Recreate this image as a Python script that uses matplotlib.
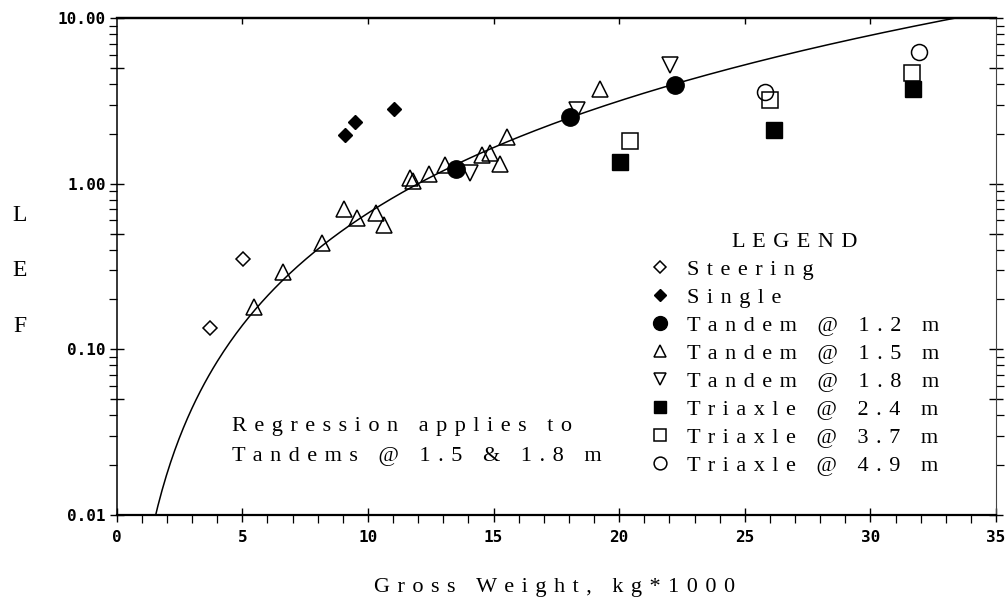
import numpy as np
import matplotlib
matplotlib.use("Agg")
import matplotlib.pyplot as plt
from matplotlib.lines import Line2D
from matplotlib.ticker import (FixedLocator, FuncFormatter, MultipleLocator,
                               NullFormatter, NullLocator)

# ---- data: gross weight (kg*1000) and load equivalency factor -------------
steering_w = [3.72, 5.03]
steering_lef = [0.134, 0.351]

single_w = [9.10, 9.49, 11.05]
single_lef = [1.96, 2.35, 2.82]

tandem12_w = [13.52, 18.06, 22.24]
tandem12_lef = [1.22, 2.52, 3.94]

tandem15_w = [5.47, 6.63, 8.17, 9.03, 9.56, 10.33, 10.62, 11.69, 11.80,
              12.45, 13.08, 14.54, 14.87, 15.27, 15.54, 19.22]
tandem15_lef = [0.180, 0.293, 0.44, 0.70, 0.618, 0.662, 0.562, 1.076, 1.04,
                1.143, 1.295, 1.489, 1.524, 1.313, 1.919, 3.71]

tandem18_w = [14.08, 18.33, 22.04]
tandem18_lef = [1.164, 2.78, 5.2]

triaxle24_w = [20.05, 26.15, 31.69]
triaxle24_lef = [1.35, 2.11, 3.72]

triaxle37_w = [20.45, 26.02, 31.65]
triaxle37_lef = [1.81, 3.19, 4.65]

triaxle49_w = [25.82, 31.92]
triaxle49_lef = [3.57, 6.27]

legend_labels = ["Steering", "Single", "Tandem @ 1.2 m", "Tandem @ 1.5 m",
                 "Tandem @ 1.8 m", "Triaxle @ 2.4 m", "Triaxle @ 3.7 m",
                 "Triaxle @ 4.9 m"]

# regression for tandems @ 1.5 & 1.8 m:  LEF = (W / reg_a) ** reg_b
reg_a = 12.0
reg_b = 2.25

x_major = [0, 5, 10, 15, 20, 25, 30, 35]
y_decades = [0.01, 0.1, 1.0, 10.0]
y_halves = [0.05, 0.5, 5.0]

# ---- styling ---------------------------------------------------------------
plt.rcParams["font.family"] = "DejaVu Sans Mono"
plt.rcParams["font.weight"] = "bold"
SERIF = ["Liberation Serif", "DejaVu Serif"]
TXT = 16
SEP = " \u200a"


def spaced(s):
    """Wide, typewriter-like letter spacing."""
    return SEP.join(s)


fig = plt.figure(figsize=(10.08, 6.09), dpi=100)
ax = fig.add_axes([0.11577, 0.15435, 0.87232, 0.81609])

ax.set_xscale("linear")
ax.set_yscale("log")
ax.set_xlim(0, 35)
ax.set_ylim(0.01, 10)

# regression curve
w_fit = np.linspace(1.3, 35, 400)
ax.plot(w_fit, (w_fit / reg_a) ** reg_b, color="black", lw=1.1, zorder=2)

series = [
    (steering_w, steering_lef, dict(marker="D", ms=7.5, mfc="none", mew=1.1)),
    (single_w, single_lef, dict(marker="D", ms=7.5, mfc="black", mew=1.0)),
    (tandem12_w, tandem12_lef, dict(marker="o", ms=12.5, mfc="black", mew=1.0)),
    (tandem15_w, tandem15_lef, dict(marker="^", ms=11, mfc="none", mew=1.1)),
    (tandem18_w, tandem18_lef, dict(marker="v", ms=11, mfc="none", mew=1.1)),
    (triaxle24_w, triaxle24_lef, dict(marker="s", ms=11, mfc="black", mew=1.0)),
    (triaxle37_w, triaxle37_lef, dict(marker="s", ms=11, mfc="none", mew=1.1)),
    (triaxle49_w, triaxle49_lef, dict(marker="o", ms=11.5, mfc="none", mew=1.1)),
]
handles = []
for w, lef, st in series:
    ax.plot(w, lef, linestyle="none", mec="black", zorder=3, **st)
    hs = dict(st)
    hs["ms"] = st["ms"] * 0.8
    handles.append(Line2D([], [], linestyle="none", mec="black", **hs))

# ---- axes frame and ticks --------------------------------------------------
for side, lw in (("top", 1.6), ("bottom", 1.6), ("left", 1.1), ("right", 0.8)):
    ax.spines[side].set_linewidth(lw)
ax.spines["right"].set_color("#444444")

ax.xaxis.set_major_locator(FixedLocator(x_major))
ax.xaxis.set_minor_locator(MultipleLocator(1))
ax.xaxis.set_major_formatter(FuncFormatter(lambda v, p: f"{v:.0f}"))

ax.yaxis.set_major_locator(FixedLocator(sorted(y_decades + y_halves)))
ax.yaxis.set_major_formatter(
    FuncFormatter(lambda v, p: f"{v:.2f}" if any(np.isclose(v, y_decades)) else ""))
ax.yaxis.set_minor_locator(FixedLocator(
    [d * k for d in (0.01, 0.1, 1.0) for k in (2, 3, 4, 6, 7, 8, 9)]))
ax.yaxis.set_minor_formatter(NullFormatter())

ax.tick_params(axis="x", which="both", bottom=True, top=False)
ax.tick_params(axis="y", which="both", left=True, right=True)
ax.tick_params(which="major", direction="inout", length=10, width=1.0,
               labelsize=11.5, colors="black")
ax.tick_params(which="minor", direction="out", length=5.5, width=0.9)
ax.tick_params(axis="x", which="major", pad=6)
ax.tick_params(axis="y", which="major", pad=3)

top = ax.secondary_xaxis("top")
top.set_xticks(x_major[1:-1])
top.xaxis.set_minor_locator(NullLocator())
top.tick_params(direction="in", length=4, width=1.0, labeltop=False)
top.spines["top"].set_linewidth(1.6)

# ---- labels ----------------------------------------------------------------
ax.set_xlabel(spaced("Gross Weight, kg*1000"), family=SERIF, fontsize=TXT,
              fontweight="normal", va="center")
ax.xaxis.set_label_coords(0.4985, -0.146)

ax.set_ylabel("L\nE\nF", family=SERIF, fontsize=17, fontweight="normal",
              rotation=0, ha="center", va="center", linespacing=3.15)
ax.yaxis.set_label_coords(-0.110, 0.491)

ax.text(0.1308, 0.148,
        spaced("Regression applies to") + "\n" + spaced("Tandems @ 1.5 & 1.8 m"),
        transform=ax.transAxes, family=SERIF, fontsize=TXT, fontweight="normal",
        ha="left", va="center", linespacing=1.8)

ax.legend(handles, [spaced(t) for t in legend_labels],
          title=spaced("LEGEND"),
          prop={"family": SERIF, "size": TXT, "weight": "normal"},
          title_fontproperties={"family": SERIF, "size": TXT, "weight": "normal"},
          loc="upper left", bbox_to_anchor=(650 / 1008, 1 - 233 / 609),
          bbox_transform=fig.transFigure, frameon=False, borderpad=0,
          borderaxespad=0, handlelength=0.9, handletextpad=0.75,
          labelspacing=0.335)

fig.savefig("out.png", dpi=100)
